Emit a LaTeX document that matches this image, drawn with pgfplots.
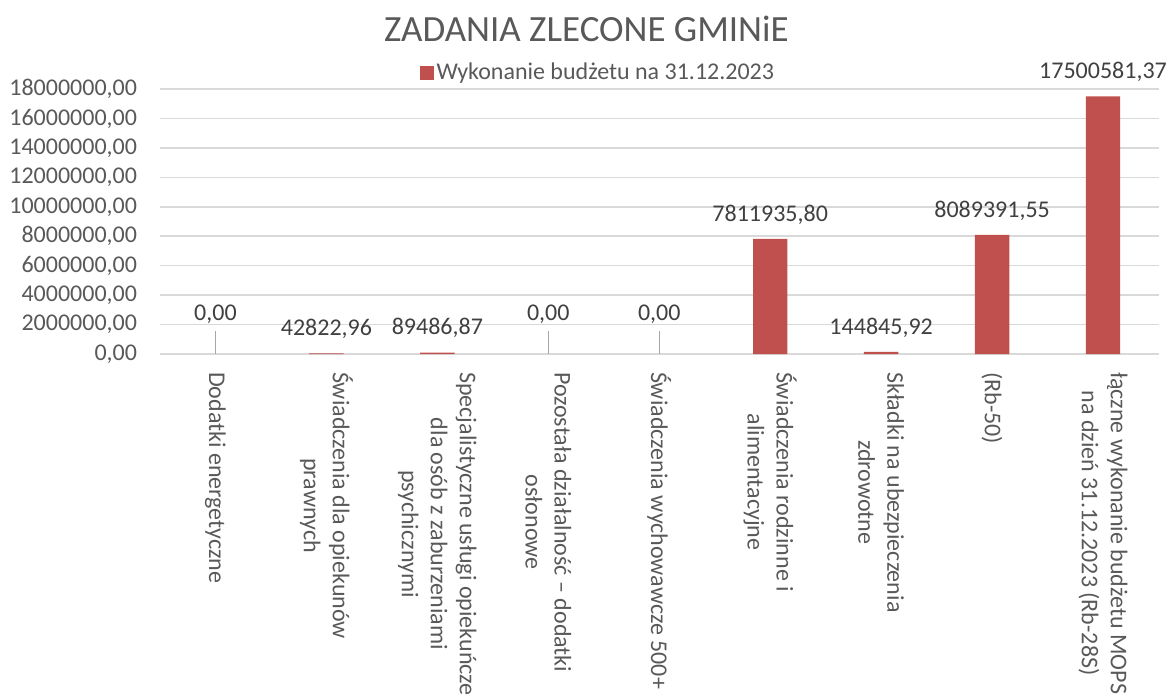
\documentclass[border=0pt]{standalone}
\usepackage{pgfplots}
\pgfplotsset{compat=1.18}
\usepackage{pgfplotstable}
\usepackage{fontspec}
\setmainfont{Carlito}
\definecolor{barred}{HTML}{C0504D}
\definecolor{txt}{HTML}{595959}
\definecolor{lbl}{HTML}{404040}
\definecolor{gridc}{HTML}{D9D9D9}
\definecolor{leadgray}{HTML}{A6A6A6}

\pgfplotstableread{
x y label
1 42822.96 42822,96
2 89486.87 89486,87
5 7811935.80 7811935,80
6 144845.92 144845,92
7 8089391.55 8089391,55
8 17500581.37 17500581,37
}\nonzero
\pgfplotstableread{
x y label
0 0 0,00
3 0 0,00
4 0 0,00
}\zeros

\begin{document}
\begin{tikzpicture}
\begin{axis}[
  name=ax,
  width=499.25pt, height=132.5pt, scale only axis,
  xmin=-0.5, xmax=8.5, ymin=0, ymax=18000000,
  clip=false,
  scaled y ticks=false,
  axis x line=bottom, axis y line=left,
  x axis line style={draw=gridc, line width=0.75pt, -},
  y axis line style={draw=none},
  major tick length=0pt,
  xtick style={draw=none}, ytick style={draw=none},
  ymajorgrids, major grid style={draw=gridc, line width=0.75pt},
  xtick={0,1,2,3,4,5,6,7,8},
  xticklabels={
    {Dodatki energetyczne},
    {Świadczenia dla opiekunów\\prawnych},
    {Specjalistyczne usługi opiekuńcze\\dla osób z zaburzeniami\\psychicznymi},
    {Pozostała działalność – dodatki\\osłonowe},
    {Świadczenia wychowawcze 500+},
    {Świadczenia rodzinne i\\alimentacyjne},
    {Składki na ubezpieczenia\\zdrowotne},
    {(Rb-50)},
    {łączne wykonanie budżetu MOPS\\na dzień 31.12.2023 (Rb-28S)}},
  xticklabel style={font=\fontsize{12}{14.5}\selectfont, text=txt, rotate=-90, anchor=west, align=center, inner sep=0pt},
  xticklabel shift=8.85pt,
  ytick={0,2000000,4000000,6000000,8000000,10000000,12000000,14000000,16000000,18000000},
  yticklabels={{0,00},{2000000,00},{4000000,00},{6000000,00},{8000000,00},{10000000,00},{12000000,00},{14000000,00},{16000000,00},{18000000,00}},
  yticklabel style={font=\fontsize{12}{14.5}\selectfont, text=txt, anchor=east, inner sep=0pt},
  yticklabel shift=11.3pt,
  title={ZADANIA ZLECONE GMINiE},
  title style={at={(0.427,1.18)}, anchor=center, font=\fontsize{18.5}{22}\selectfont, text=txt, inner sep=0pt},
  legend style={at={(0.439,1.06)}, anchor=center, draw=none, fill=none, font=\fontsize{12}{14.5}\selectfont, text=txt, inner sep=0pt, nodes={inner sep=1.5pt}},
]
\addplot[ybar, bar width=17.2pt, bar shift=0pt, fill=barred, draw=none,
  legend image code/.code={\fill[barred] (0pt,-3.5pt) rectangle (7pt,3.5pt);},
  point meta=explicit symbolic,
  nodes near coords,
  every node near coord/.append style={anchor=south, yshift=7.2pt, inner sep=0pt, font=\fontsize{12}{14.5}\selectfont, text=lbl},
] table[x=x, y=y, meta=label] {\nonzero};
\addlegendentry{Wykonanie budżetu na 31.12.2023}
% leader lines of the zero-value data labels
\addplot[forget plot, sharp plot, draw=leadgray, line width=0.75pt, mark=none]
  coordinates {(0,0) (0,1560000)};
\addplot[forget plot, sharp plot, draw=leadgray, line width=0.75pt, mark=none]
  coordinates {(3,0) (3,1560000)};
\addplot[forget plot, sharp plot, draw=leadgray, line width=0.75pt, mark=none]
  coordinates {(4,0) (4,1560000)};
\addplot[forget plot, only marks, mark=none,
  point meta=explicit symbolic,
  nodes near coords,
  every node near coord/.append style={anchor=south, yshift=15pt, inner sep=0pt, font=\fontsize{12}{14.5}\selectfont, text=lbl},
] table[x=x, y=y, meta=label] {\zeros};
\end{axis}
\pgfresetboundingbox
\path ([shift={(-80pt,-170.5pt)}]ax.south west) rectangle ([shift={(5.25pt,44.5pt)}]ax.north east);
\end{tikzpicture}
\end{document}
